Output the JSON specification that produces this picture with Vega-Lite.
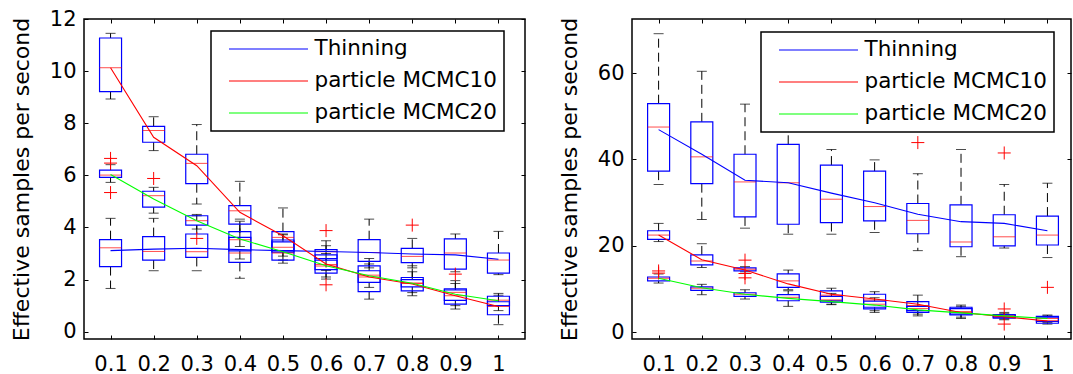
{
  "$schema": "https://vega.github.io/schema/vega-lite/v6.json",
  "padding": {"left": 9, "top": 7, "right": 0, "bottom": 0},
  "spacing": 30,
  "config": {
    "font": "DejaVu Sans",
    "view": {"stroke": "black", "strokeWidth": 1.5},
    "axis": {"grid": false, "domain": false, "tickColor": "black", "labelColor": "black", "labelFont": "DejaVu Sans", "labelFontSize": 21, "titleFont": "DejaVu Sans", "titleFontSize": 22, "titleFontWeight": "normal", "titleColor": "black", "tickSize": -4, "tickWidth": 1},
    "legend": {"orient": "none", "title": null, "strokeColor": "black", "strokeWidth": 1.5, "fillColor": "white", "padding": 7, "rowPadding": 10, "symbolType": "M-3.95,0H3.95", "symbolSize": 400, "symbolOffset": 39.5, "labelOffset": 35, "labelLimit": 400, "labelFont": "DejaVu Sans", "labelFontSize": 21.5, "labelColor": "black", "symbolStrokeWidth": 1.2}
  },
  "datasets": {
    "boxes": [
      {"p":"L","s":"Thinning","x":0.1,"lo":1.66,"q1":2.50,"med":3.22,"q3":3.53,"hi":4.35,"mean":3.11},
      {"p":"L","s":"particle MCMC10","x":0.1,"lo":8.93,"q1":9.21,"med":10.13,"q3":11.27,"hi":11.45,"mean":10.13},
      {"p":"L","s":"particle MCMC20","x":0.1,"lo":5.73,"q1":5.92,"med":6.01,"q3":6.20,"hi":6.41,"mean":6.03},
      {"p":"L","s":"Thinning","x":0.2,"lo":2.34,"q1":2.75,"med":3.08,"q3":3.65,"hi":4.35,"mean":3.17},
      {"p":"L","s":"particle MCMC10","x":0.2,"lo":6.95,"q1":7.27,"med":7.72,"q3":7.88,"hi":8.25,"mean":7.46},
      {"p":"L","s":"particle MCMC20","x":0.2,"lo":4.55,"q1":4.78,"med":5.22,"q3":5.39,"hi":5.54,"mean":5.09},
      {"p":"L","s":"Thinning","x":0.3,"lo":2.34,"q1":2.85,"med":3.07,"q3":3.75,"hi":4.45,"mean":3.20},
      {"p":"L","s":"particle MCMC10","x":0.3,"lo":4.90,"q1":5.68,"med":6.46,"q3":6.81,"hi":7.95,"mean":6.37},
      {"p":"L","s":"particle MCMC20","x":0.3,"lo":3.94,"q1":4.09,"med":4.26,"q3":4.45,"hi":4.50,"mean":4.26},
      {"p":"L","s":"Thinning","x":0.4,"lo":2.05,"q1":2.66,"med":3.02,"q3":3.84,"hi":4.32,"mean":3.15},
      {"p":"L","s":"particle MCMC10","x":0.4,"lo":3.27,"q1":4.13,"med":4.64,"q3":4.84,"hi":5.77,"mean":4.58},
      {"p":"L","s":"particle MCMC20","x":0.4,"lo":2.79,"q1":3.10,"med":3.53,"q3":3.62,"hi":4.24,"mean":3.56},
      {"p":"L","s":"Thinning","x":0.5,"lo":2.63,"q1":2.75,"med":3.02,"q3":3.52,"hi":3.75,"mean":3.11},
      {"p":"L","s":"particle MCMC10","x":0.5,"lo":2.75,"q1":3.11,"med":3.62,"q3":3.84,"hi":4.75,"mean":3.68},
      {"p":"L","s":"particle MCMC20","x":0.5,"lo":2.90,"q1":3.05,"med":3.24,"q3":3.45,"hi":3.72,"mean":3.07},
      {"p":"L","s":"Thinning","x":0.6,"lo":2.35,"q1":2.81,"med":3.07,"q3":3.15,"hi":3.49,"mean":3.08},
      {"p":"L","s":"particle MCMC10","x":0.6,"lo":2.02,"q1":2.25,"med":2.58,"q3":2.95,"hi":3.30,"mean":2.60},
      {"p":"L","s":"particle MCMC20","x":0.6,"lo":2.10,"q1":2.38,"med":2.52,"q3":2.75,"hi":3.00,"mean":2.53},
      {"p":"L","s":"Thinning","x":0.7,"lo":2.45,"q1":2.70,"med":3.04,"q3":3.53,"hi":4.32,"mean":3.04},
      {"p":"L","s":"particle MCMC10","x":0.7,"lo":1.25,"q1":1.54,"med":2.17,"q3":2.53,"hi":2.81,"mean":2.10},
      {"p":"L","s":"particle MCMC20","x":0.7,"lo":1.70,"q1":1.89,"med":2.10,"q3":2.34,"hi":2.60,"mean":2.15},
      {"p":"L","s":"Thinning","x":0.8,"lo":2.45,"q1":2.65,"med":2.89,"q3":3.20,"hi":3.58,"mean":2.98},
      {"p":"L","s":"particle MCMC10","x":0.8,"lo":1.38,"q1":1.57,"med":1.87,"q3":2.08,"hi":2.53,"mean":1.83},
      {"p":"L","s":"particle MCMC20","x":0.8,"lo":1.50,"q1":1.72,"med":1.85,"q3":2.00,"hi":2.30,"mean":1.86},
      {"p":"L","s":"Thinning","x":0.9,"lo":2.30,"q1":2.40,"med":3.02,"q3":3.56,"hi":3.75,"mean":2.95},
      {"p":"L","s":"particle MCMC10","x":0.9,"lo":0.87,"q1":1.06,"med":1.51,"q3":1.64,"hi":1.96,"mean":1.38},
      {"p":"L","s":"particle MCMC20","x":0.9,"lo":1.00,"q1":1.20,"med":1.38,"q3":1.60,"hi":1.85,"mean":1.44},
      {"p":"L","s":"Thinning","x":1.0,"lo":2.19,"q1":2.25,"med":2.75,"q3":3.02,"hi":3.85,"mean":2.78},
      {"p":"L","s":"particle MCMC10","x":1.0,"lo":0.27,"q1":0.65,"med":0.97,"q3":1.15,"hi":1.40,"mean":0.97},
      {"p":"L","s":"particle MCMC20","x":1.0,"lo":0.81,"q1":1.00,"med":1.21,"q3":1.36,"hi":1.47,"mean":1.19},
      {"p":"R","s":"Thinning","x":0.1,"lo":34.2,"q1":37.3,"med":47.5,"q3":52.9,"hi":69.1,"mean":46.9},
      {"p":"R","s":"particle MCMC10","x":0.1,"lo":21.0,"q1":21.5,"med":22.5,"q3":23.5,"hi":25.2,"mean":22.5},
      {"p":"R","s":"particle MCMC20","x":0.1,"lo":11.4,"q1":11.9,"med":12.5,"q3":12.8,"hi":13.5,"mean":12.5},
      {"p":"R","s":"Thinning","x":0.2,"lo":26.1,"q1":34.4,"med":40.6,"q3":48.7,"hi":60.4,"mean":41.2},
      {"p":"R","s":"particle MCMC10","x":0.2,"lo":15.0,"q1":15.6,"med":16.5,"q3":17.9,"hi":20.5,"mean":16.8},
      {"p":"R","s":"particle MCMC20","x":0.2,"lo":8.7,"q1":9.7,"med":10.2,"q3":10.5,"hi":11.1,"mean":10.3},
      {"p":"R","s":"Thinning","x":0.3,"lo":24.1,"q1":26.7,"med":34.8,"q3":41.2,"hi":52.8,"mean":35.2},
      {"p":"R","s":"particle MCMC10","x":0.3,"lo":14.0,"q1":14.2,"med":14.6,"q3":14.9,"hi":15.2,"mean":14.4},
      {"p":"R","s":"particle MCMC20","x":0.3,"lo":7.7,"q1":8.3,"med":8.8,"q3":9.15,"hi":9.85,"mean":8.8},
      {"p":"R","s":"Thinning","x":0.4,"lo":22.7,"q1":25.0,"med":34.6,"q3":43.5,"hi":57.0,"mean":34.6},
      {"p":"R","s":"particle MCMC10","x":0.4,"lo":9.85,"q1":10.4,"med":11.9,"q3":13.5,"hi":14.4,"mean":11.2},
      {"p":"R","s":"particle MCMC20","x":0.4,"lo":6.0,"q1":7.3,"med":8.1,"q3":8.7,"hi":9.6,"mean":7.85},
      {"p":"R","s":"Thinning","x":0.5,"lo":22.7,"q1":25.4,"med":30.8,"q3":38.7,"hi":42.3,"mean":32.2},
      {"p":"R","s":"particle MCMC10","x":0.5,"lo":6.5,"q1":7.3,"med":8.6,"q3":9.6,"hi":10.2,"mean":8.8},
      {"p":"R","s":"particle MCMC20","x":0.5,"lo":6.4,"q1":7.0,"med":7.5,"q3":8.3,"hi":9.0,"mean":7.1},
      {"p":"R","s":"Thinning","x":0.6,"lo":23.1,"q1":25.8,"med":29.1,"q3":37.3,"hi":39.9,"mean":30.0},
      {"p":"R","s":"particle MCMC10","x":0.6,"lo":4.6,"q1":5.4,"med":7.5,"q3":8.8,"hi":9.4,"mean":7.7},
      {"p":"R","s":"particle MCMC20","x":0.6,"lo":5.0,"q1":5.8,"med":6.5,"q3":7.2,"hi":8.0,"mean":6.3},
      {"p":"R","s":"Thinning","x":0.7,"lo":18.9,"q1":22.8,"med":25.9,"q3":29.8,"hi":36.7,"mean":27.3},
      {"p":"R","s":"particle MCMC10","x":0.7,"lo":3.8,"q1":4.6,"med":6.2,"q3":7.1,"hi":8.6,"mean":6.5},
      {"p":"R","s":"particle MCMC20","x":0.7,"lo":4.2,"q1":5.0,"med":5.5,"q3":6.0,"hi":7.1,"mean":5.2},
      {"p":"R","s":"Thinning","x":0.8,"lo":17.5,"q1":19.8,"med":20.9,"q3":29.5,"hi":42.3,"mean":25.6},
      {"p":"R","s":"particle MCMC10","x":0.8,"lo":3.2,"q1":4.0,"med":4.8,"q3":5.8,"hi":6.3,"mean":4.6},
      {"p":"R","s":"particle MCMC20","x":0.8,"lo":3.5,"q1":4.2,"med":4.6,"q3":5.5,"hi":6.0,"mean":4.5},
      {"p":"R","s":"Thinning","x":0.9,"lo":19.5,"q1":20.0,"med":22.1,"q3":27.2,"hi":34.2,"mean":25.2},
      {"p":"R","s":"particle MCMC10","x":0.9,"lo":2.9,"q1":3.3,"med":3.6,"q3":4.1,"hi":4.6,"mean":3.6},
      {"p":"R","s":"particle MCMC20","x":0.9,"lo":3.1,"q1":3.5,"med":3.8,"q3":4.0,"hi":4.3,"mean":3.8},
      {"p":"R","s":"Thinning","x":1.0,"lo":17.3,"q1":20.2,"med":22.5,"q3":26.9,"hi":34.5,"mean":23.5},
      {"p":"R","s":"particle MCMC10","x":1.0,"lo":1.9,"q1":2.1,"med":2.7,"q3":3.7,"hi":4.0,"mean":2.6},
      {"p":"R","s":"particle MCMC20","x":1.0,"lo":2.3,"q1":2.5,"med":3.2,"q3":3.5,"hi":3.8,"mean":3.2}
    ],
    "outliers": [
      {"p":"L","x":0.1,"v":6.65},{"p":"L","x":0.1,"v":6.47},{"p":"L","x":0.1,"v":5.34},
      {"p":"L","x":0.2,"v":5.88},{"p":"L","x":0.3,"v":3.58},
      {"p":"L","x":0.6,"v":3.88},{"p":"L","x":0.6,"v":1.80},
      {"p":"L","x":0.8,"v":4.09},{"p":"L","x":0.9,"v":2.21},
      {"p":"R","x":0.1,"v":13.7},{"p":"R","x":0.1,"v":14.2},
      {"p":"R","x":0.3,"v":16.7},{"p":"R","x":0.3,"v":13.6},{"p":"R","x":0.3,"v":12.6},
      {"p":"R","x":0.7,"v":43.9},{"p":"R","x":0.9,"v":41.5},{"p":"R","x":0.9,"v":5.4},{"p":"R","x":0.9,"v":1.9},
      {"p":"R","x":1.0,"v":10.4}
    ]
  },
  "resolve": {"scale": {"color": "independent"}, "legend": {"color": "independent"}},
  "hconcat": [
    {
      "width": 441, "height": 320,
      "data": {"name": "boxes"},
      "transform": [{"filter": "datum.p == 'L'"}],
      "resolve": {"axis": {"x": "independent", "y": "independent"}},
      "layer": [
        {
          "mark": {"type": "rule", "color": "black", "strokeWidth": 1, "strokeDash": [9, 5]},
          "encoding": {
            "x": {"field": "x", "type": "quantitative", "scale": {"domain": [0.05, 1.05], "nice": false, "zero": false},
                  "axis": {"orient": "bottom", "values": [0.1,0.2,0.3,0.4,0.5,0.6,0.7,0.8,0.9,1], "format": ".1~f", "title": null, "labelPadding": 18, "labelFlush": false}},
            "y": {"field": "q3", "type": "quantitative", "scale": {"domain": [-0.28, 12], "nice": false, "zero": false},
                  "axis": {"orient": "left", "values": [0,2,4,6,8,10,12], "title": "Effective samples per second", "labelPadding": 12, "titlePadding": 16}},
            "y2": {"field": "hi"}
          }
        },
        {
          "mark": {"type": "rule", "color": "black", "strokeWidth": 1, "strokeDash": [9, 5]},
          "encoding": {
            "x": {"field": "x", "type": "quantitative", "axis": {"orient": "top", "values": [0.1,0.2,0.3,0.4,0.5,0.6,0.7,0.8,0.9,1], "labels": false, "title": null}},
            "y": {"field": "q1", "type": "quantitative", "axis": {"orient": "right", "values": [0,2,4,6,8,10,12], "labels": false, "title": null}},
            "y2": {"field": "lo"}
          }
        },
        {
          "mark": {"type": "tick", "orient": "horizontal", "color": "black", "size": 10, "thickness": 1},
          "encoding": {"x": {"field": "x", "type": "quantitative", "axis": null}, "y": {"field": "hi", "type": "quantitative", "axis": null}}
        },
        {
          "mark": {"type": "tick", "orient": "horizontal", "color": "black", "size": 10, "thickness": 1},
          "encoding": {"x": {"field": "x", "type": "quantitative", "axis": null}, "y": {"field": "lo", "type": "quantitative", "axis": null}}
        },
        {
          "mark": {"type": "bar", "width": 22, "fill": "transparent", "stroke": "#0000ff", "strokeWidth": 1.2},
          "encoding": {"x": {"field": "x", "type": "quantitative", "axis": null}, "y": {"field": "q1", "type": "quantitative", "axis": null}, "y2": {"field": "q3"}}
        },
        {
          "mark": {"type": "tick", "orient": "horizontal", "color": "#ff0000", "size": 22, "thickness": 1},
          "encoding": {"x": {"field": "x", "type": "quantitative", "axis": null}, "y": {"field": "med", "type": "quantitative", "axis": null}}
        },
        {
          "data": {"name": "outliers"},
          "transform": [{"filter": "datum.p == 'L'"}],
          "mark": {"type": "point", "shape": "M-1,0H1M0,-1V1", "size": 169, "filled": false, "stroke": "#ff0000", "strokeWidth": 1, "opacity": 1},
          "encoding": {"x": {"field": "x", "type": "quantitative", "axis": null}, "y": {"field": "v", "type": "quantitative", "axis": null}}
        },
        {
          "mark": {"type": "line", "strokeWidth": 1.1},
          "encoding": {
            "x": {"field": "x", "type": "quantitative", "axis": null},
            "y": {"field": "mean", "type": "quantitative", "axis": null},
            "color": {"field": "s", "type": "nominal",
                      "scale": {"domain": ["Thinning", "particle MCMC10", "particle MCMC20"], "range": ["#0000ff", "#ff0000", "#00ff00"]},
                      "legend": {"legendX": 127, "legendY": 12}}
          }
        }
      ]
    },
    {
      "width": 439, "height": 320,
      "data": {"name": "boxes"},
      "transform": [{"filter": "datum.p == 'R'"}],
      "resolve": {"axis": {"x": "independent", "y": "independent"}},
      "layer": [
        {
          "mark": {"type": "rule", "color": "black", "strokeWidth": 1, "strokeDash": [9, 5]},
          "encoding": {
            "x": {"field": "x", "type": "quantitative", "scale": {"domain": [0.05, 1.043], "nice": false, "zero": false},
                  "axis": {"orient": "bottom", "values": [0.1,0.2,0.3,0.4,0.5,0.6,0.7,0.8,0.9,1], "format": ".1~f", "title": null, "labelPadding": 18, "labelFlush": false}},
            "y": {"field": "q3", "type": "quantitative", "scale": {"domain": [-1.55, 72.5], "nice": false, "zero": false},
                  "axis": {"orient": "left", "values": [0,20,40,60], "title": "Effective samples per second", "labelPadding": 12, "titlePadding": 16}},
            "y2": {"field": "hi"}
          }
        },
        {
          "mark": {"type": "rule", "color": "black", "strokeWidth": 1, "strokeDash": [9, 5]},
          "encoding": {
            "x": {"field": "x", "type": "quantitative", "axis": {"orient": "top", "values": [0.1,0.2,0.3,0.4,0.5,0.6,0.7,0.8,0.9,1], "labels": false, "title": null}},
            "y": {"field": "q1", "type": "quantitative", "axis": {"orient": "right", "values": [0,20,40,60], "labels": false, "title": null}},
            "y2": {"field": "lo"}
          }
        },
        {
          "mark": {"type": "tick", "orient": "horizontal", "color": "black", "size": 10, "thickness": 1},
          "encoding": {"x": {"field": "x", "type": "quantitative", "axis": null}, "y": {"field": "hi", "type": "quantitative", "axis": null}}
        },
        {
          "mark": {"type": "tick", "orient": "horizontal", "color": "black", "size": 10, "thickness": 1},
          "encoding": {"x": {"field": "x", "type": "quantitative", "axis": null}, "y": {"field": "lo", "type": "quantitative", "axis": null}}
        },
        {
          "mark": {"type": "bar", "width": 22, "fill": "transparent", "stroke": "#0000ff", "strokeWidth": 1.2},
          "encoding": {"x": {"field": "x", "type": "quantitative", "axis": null}, "y": {"field": "q1", "type": "quantitative", "axis": null}, "y2": {"field": "q3"}}
        },
        {
          "mark": {"type": "tick", "orient": "horizontal", "color": "#ff0000", "size": 22, "thickness": 1},
          "encoding": {"x": {"field": "x", "type": "quantitative", "axis": null}, "y": {"field": "med", "type": "quantitative", "axis": null}}
        },
        {
          "data": {"name": "outliers"},
          "transform": [{"filter": "datum.p == 'R'"}],
          "mark": {"type": "point", "shape": "M-1,0H1M0,-1V1", "size": 169, "filled": false, "stroke": "#ff0000", "strokeWidth": 1, "opacity": 1},
          "encoding": {"x": {"field": "x", "type": "quantitative", "axis": null}, "y": {"field": "v", "type": "quantitative", "axis": null}}
        },
        {
          "mark": {"type": "line", "strokeWidth": 1.1},
          "encoding": {
            "x": {"field": "x", "type": "quantitative", "axis": null},
            "y": {"field": "mean", "type": "quantitative", "axis": null},
            "color": {"field": "s", "type": "nominal",
                      "scale": {"domain": ["Thinning", "particle MCMC10", "particle MCMC20"], "range": ["#0000ff", "#ff0000", "#00ff00"]},
                      "legend": {"legendX": 129, "legendY": 13}}
          }
        }
      ]
    }
  ]
}
